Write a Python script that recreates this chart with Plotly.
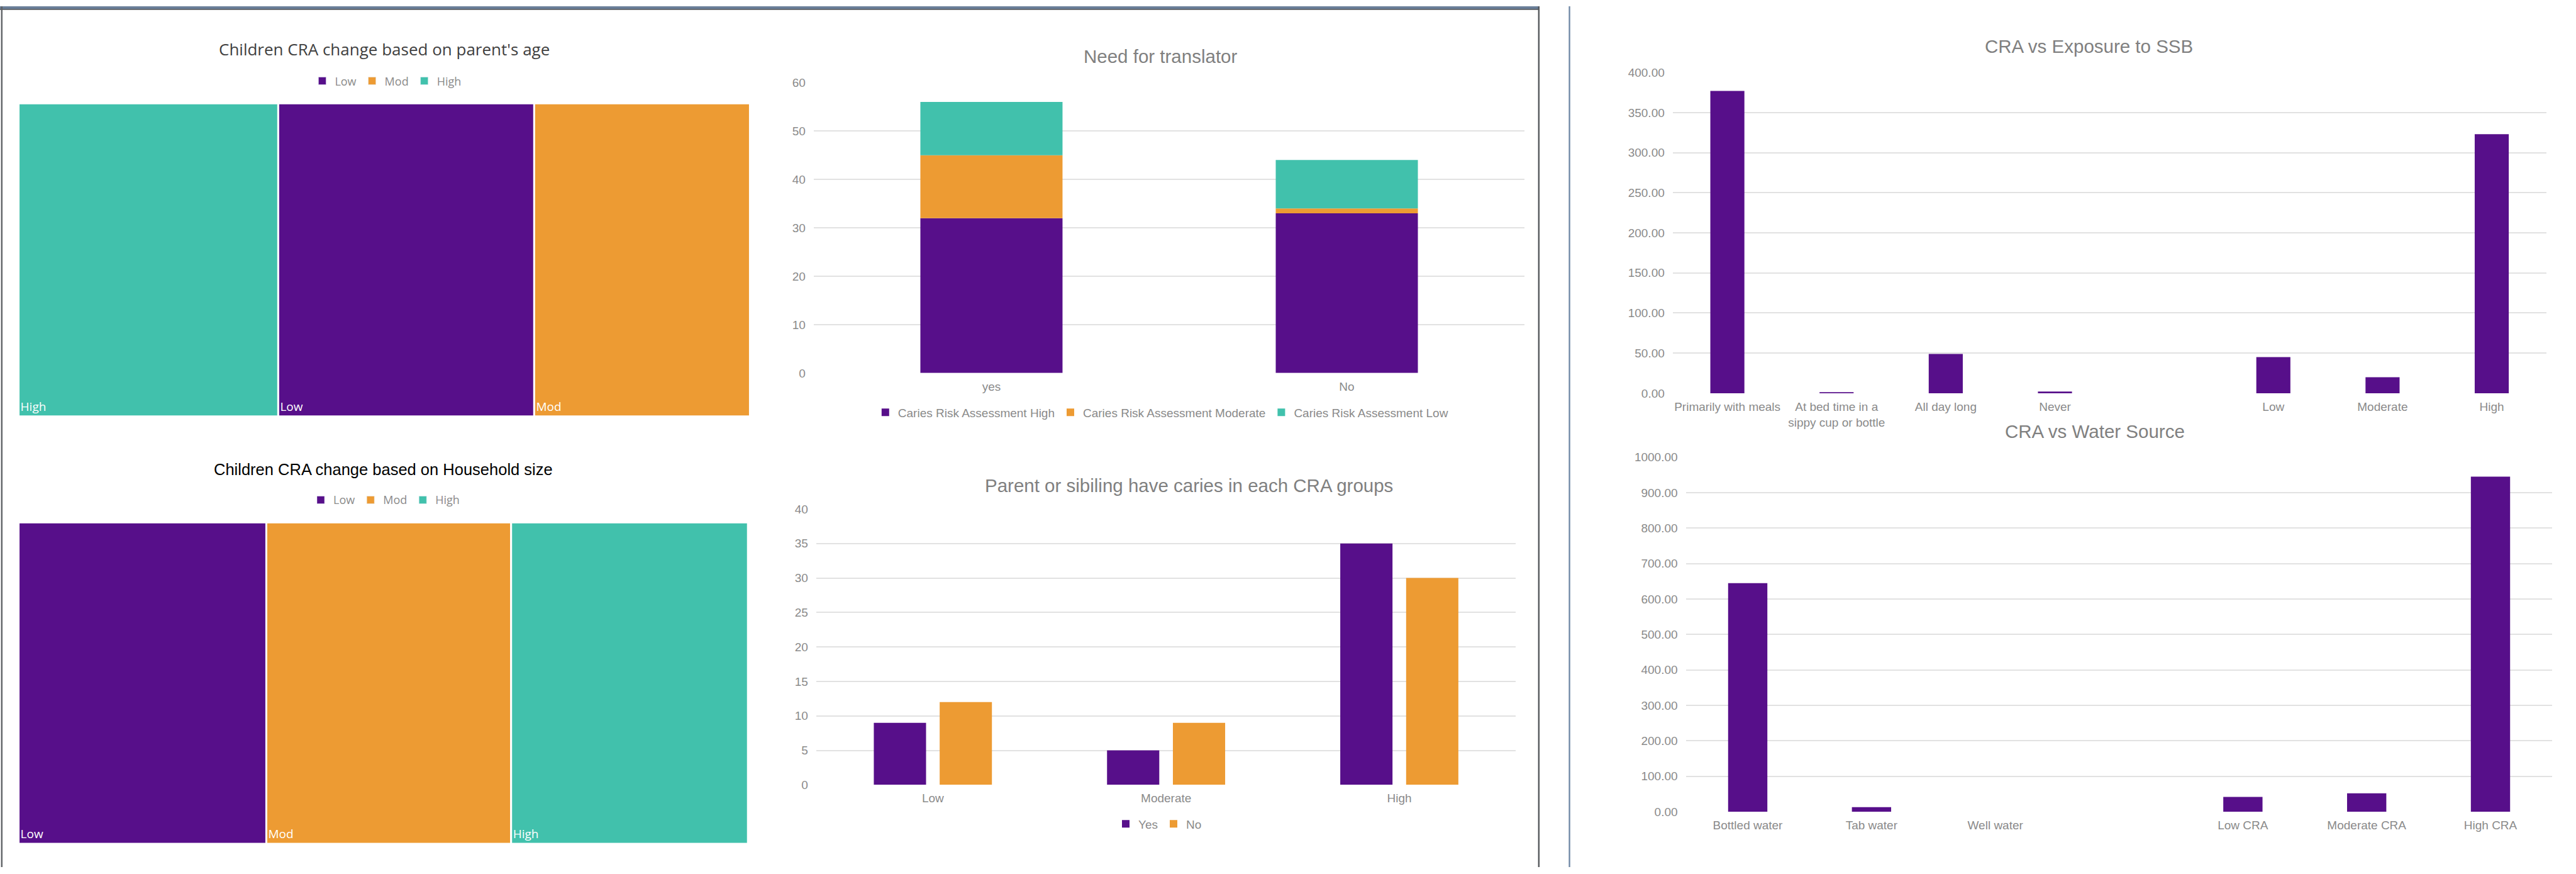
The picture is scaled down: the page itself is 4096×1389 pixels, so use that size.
import numpy as np
import plotly.graph_objects as go

# ---------------- data ----------------
risk_labels = ["Low", "Mod", "High"]
age_labels = ["High", "Low", "Mod"]
age_values = [35.5, 35.0, 29.5]
hh_labels = ["Low", "Mod", "High"]
hh_values = [34.0, 33.6, 32.5]

translator_cats = ["yes", "No"]
tr_high = [32, 33]
tr_mod = [13, 1]
tr_low = [11, 10]

parent_cats = ["Low", "Moderate", "High"]
parent_yes = [9, 5, 35]
parent_no = [12, 9, 30]

ssb_cats = ["Primarily with meals", "At bed time in a<br>sippy cup or bottle", "All day long",
            "Never", " ", "Low", "Moderate", "High"]
ssb_values = [377, 1, 49, 2, None, 45, 20, 323]

water_cats = ["Bottled water", "Tab water", "Well water", " ", "Low CRA", "Moderate CRA", "High CRA"]
water_values = [645, 13, 0, None, 42, 52, 945]

# ---------------- style ----------------
PURPLE = "#570F8A"
ORANGE = "#ED9B33"
TEAL = "#41C1AC"
risk_color = {"Low": PURPLE, "Mod": ORANGE, "High": TEAL}

W_REF, H_REF = 5125, 1738


def px(x):
    return x / W_REF


def py(y):
    return 1 - y / H_REF


SANS = "Liberation Sans, Arial, sans-serif"
SEGOE = "Open Sans, sans-serif"
GRAY = "#8a8a8a"
axis_font = dict(family=SANS, size=19, color=GRAY)

fig = go.Figure()

# ---------------- treemaps ----------------
def add_treemap(labels, values, xdom, ydom):
    fig.add_trace(go.Treemap(
        labels=labels, parents=[""] * len(labels), values=values,
        sort=False,
        marker=dict(colors=[risk_color[l] for l in labels],
                    line=dict(color="white", width=3),
                    pad=dict(t=0, l=0, r=0, b=0)),
        tiling=dict(packing="dice", pad=0),
        pathbar=dict(visible=False),
        textinfo="label",
        textposition="bottom left",
        textfont=dict(family=SEGOE, size=19, color="white"),
        domain=dict(x=xdom, y=ydom),
        hoverinfo="label+value",
    ))


add_treemap(age_labels, age_values, [px(37), px(1492)], [py(828), py(196)])
add_treemap(hh_labels, hh_values, [px(37), px(1488)], [py(1691), py(1042)])

# legend entries for the treemaps
for lg in ["legend3", "legend4"]:
    for lab in risk_labels:
        fig.add_trace(go.Bar(x=[None], y=[None], name=lab, marker_color=risk_color[lab],
                             legend=lg, xaxis="x", yaxis="y", hoverinfo="skip"))

# ---------------- Need for translator (stacked) ----------------
hi = np.array(tr_high)
md = np.array(tr_mod)
lo = np.array(tr_low)
stack = [("Caries Risk Assessment High", hi, np.zeros_like(hi), PURPLE),
         ("Caries Risk Assessment Moderate", md, hi, ORANGE),
         ("Caries Risk Assessment Low", lo, hi + md, TEAL)]
for name, vals, base, col in stack:
    fig.add_trace(go.Bar(x=translator_cats, y=vals.tolist(), base=base.tolist(), name=name,
                         marker=dict(color=col, line=dict(width=0)), width=0.4, offset=-0.2,
                         xaxis="x", yaxis="y", legend="legend"))

# ---------------- Parent or sibling (grouped) ----------------
fig.add_trace(go.Bar(x=parent_cats, y=parent_yes, name="Yes", marker=dict(color=PURPLE, line=dict(width=0)),
                     width=0.224, offset=-0.2533, xaxis="x2", yaxis="y2", legend="legend2"))
fig.add_trace(go.Bar(x=parent_cats, y=parent_no, name="No", marker=dict(color=ORANGE, line=dict(width=0)),
                     width=0.224, offset=0.0291, xaxis="x2", yaxis="y2", legend="legend2"))

# ---------------- SSB ----------------
fig.add_trace(go.Bar(x=ssb_cats, y=ssb_values, marker=dict(color=PURPLE, line=dict(width=0)),
                     width=0.312, offset=-0.156, xaxis="x3", yaxis="y3", showlegend=False))

# ---------------- Water ----------------
fig.add_trace(go.Bar(x=water_cats, y=water_values, marker=dict(color=PURPLE, line=dict(width=0)),
                     width=0.317, offset=-0.1585, xaxis="x4", yaxis="y4", showlegend=False))


def xax(domain, cats, anchor):
    return dict(domain=domain, type="category", categoryorder="array", categoryarray=cats,
                range=[-0.5, len(cats) - 0.5], showgrid=False, zeroline=False, showline=False,
                ticks="", tickfont=axis_font, anchor=anchor, ticklabelstandoff=8, fixedrange=True)


def yax(domain, rng, dtick, anchor, fmt=None):
    d = dict(domain=domain, range=rng, dtick=dtick, tick0=0, showgrid=True, gridcolor="#e2e2e2",
             gridwidth=2, zeroline=False, showline=False, ticks="", tickfont=axis_font,
             anchor=anchor, ticklabelstandoff=12, fixedrange=True)
    if fmt:
        d["tickformat"] = fmt
    return d


legend_common = dict(orientation="h", xanchor="center", yanchor="middle", bgcolor="rgba(0,0,0,0)",
                     borderwidth=0, traceorder="normal", itemclick=False)

fig.update_layout(
    width=4096, height=1389,
    margin=dict(l=0, r=0, t=0, b=0),
    paper_bgcolor="white", plot_bgcolor="white",
    barmode="overlay",
    showlegend=True,
    font=dict(family=SANS, color=GRAY),
    xaxis=xax([px(1619), px(3033)], translator_cats, "y"),
    yaxis=yax([py(740.5), py(154)], [0, 60], 10, "x"),
    xaxis2=xax([px(1624), px(3016)], parent_cats, "y2"),
    yaxis2=yax([py(1572), py(1015)], [0, 40], 5, "x2"),
    xaxis3=xax([px(3328), px(5066)], ssb_cats, "y3"),
    yaxis3=yax([py(781.2), py(133.7)], [0, 400], 50, "x3", ".2f"),
    xaxis4=xax([px(3354), px(5078)], water_cats, "y4"),
    yaxis4=yax([py(1626.3), py(910.4)], [0, 1000], 100, "x4", ".2f"),
    legend=dict(x=px(2312), y=py(820), font=dict(family=SANS, size=19, color=GRAY), **legend_common),
    legend2=dict(x=px(2306), y=py(1651), font=dict(family=SANS, size=19, color=GRAY), **legend_common),
    legend3=dict(x=px(770), y=py(151), font=dict(family=SEGOE, size=18, color=GRAY), **legend_common),
    legend4=dict(x=px(767), y=py(997), font=dict(family=SEGOE, size=18, color=GRAY), **legend_common),
)

# ---------------- titles ----------------
titles = [
    ("Children CRA change based on parent's age", 764, 86, SEGOE, 26, "#404040"),
    ("Children CRA change based on Household size", 762, 934.5, SANS, 25.5, "#000000"),
    ("Need for translator", 2308, 101.5, SANS, 29.5, "#808080"),
    ("Parent or sibiling have caries in each CRA groups", 2366, 967.5, SANS, 29.5, "#808080"),
    ("CRA vs Exposure to SSB", 4156, 80.4, SANS, 29.5, "#808080"),
    ("CRA vs Water Source", 4168, 858.3, SANS, 29.5, "#808080"),
]
for text, x, y, fam, size, col in titles:
    fig.add_annotation(text=text, x=px(x), y=py(y), xref="paper", yref="paper",
                       xanchor="center", yanchor="middle", showarrow=False,
                       font=dict(family=fam, size=size, color=col))

# ---------------- panel frames ----------------
shapes = [
    dict(type="rect", x0=0, x1=px(3063), y0=py(5), y1=1, fillcolor="#6a7f99", line_width=0),
    dict(type="rect", x0=0, x1=px(3063), y0=py(7.3), y1=py(5), fillcolor="#585c62", line_width=0),
    dict(type="rect", x0=px(2), x1=px(5), y0=0, y1=1, fillcolor="#5f6266", line_width=0),
    dict(type="rect", x0=px(3060), x1=px(3063), y0=0, y1=1, fillcolor="#55585c", line_width=0),
    dict(type="rect", x0=px(3121), x1=px(3124), y0=0, y1=1, fillcolor="#7189a6", line_width=0),
]
for s in shapes:
    fig.add_shape(xref="paper", yref="paper", layer="above", **s)

fig.write_html("out.html", config={"displayModeBar": False},
               post_script="document.body.style.margin='0';document.body.style.overflow='hidden';")
